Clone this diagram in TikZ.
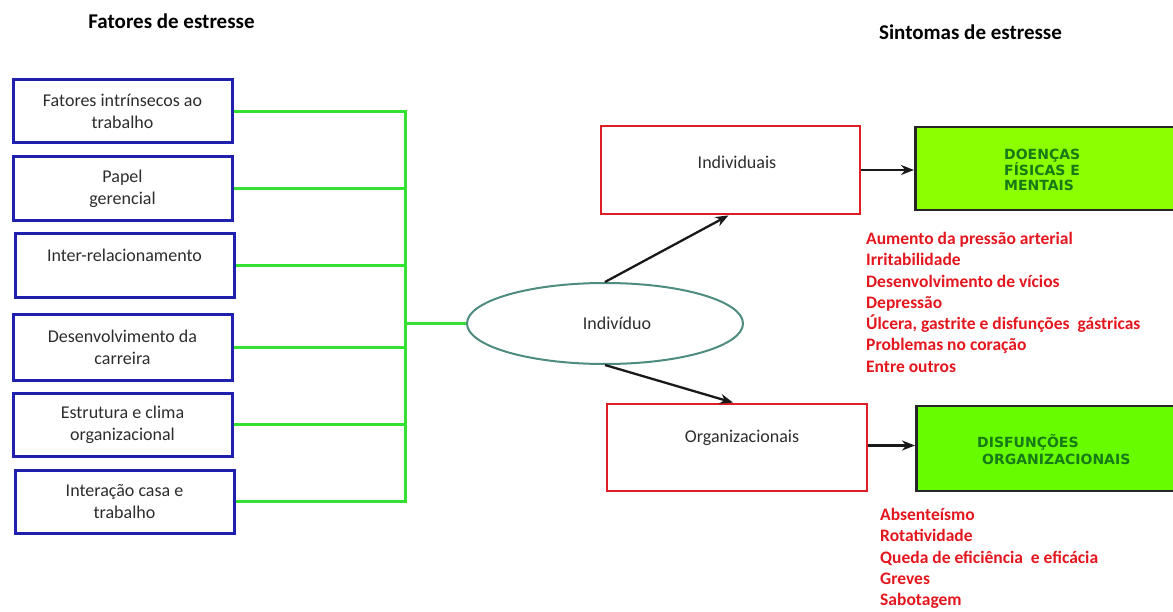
\documentclass[tikz,border=0pt]{standalone}
\usepackage{fontspec}
\setmainfont{Carlito}
\newfontfamily\verd{DejaVu Sans}
\usetikzlibrary{arrows.meta,shapes.geometric}
\definecolor{bluebd}{RGB}{32,32,175}
\definecolor{redbd}{RGB}{222,30,36}
\definecolor{redtxt}{RGB}{228,22,30}
\definecolor{glines}{RGB}{50,225,50}
\definecolor{ellbd}{RGB}{78,140,128}
\definecolor{txtgray}{RGB}{45,45,45}
\definecolor{fillA}{RGB}{140,255,0}
\definecolor{fillB}{RGB}{104,252,0}
\definecolor{gtxt}{RGB}{22,122,22}
\tikzset{
  bbox/.style={draw=bluebd,line width=3pt,minimum width=219pt,minimum height=63pt,inner sep=0pt,
    align=center,text=txtgray,font=\fontsize{18}{22}\selectfont},
  rbox/.style={draw=redbd,line width=2.8pt,minimum width=259pt,minimum height=87pt,inner sep=0pt},
  gbox/.style={draw=black!85,line width=2.8pt,minimum width=266pt,inner sep=0pt,anchor=west},
  btxt/.style={text=txtgray,font=\fontsize{18}{22}\selectfont,inner sep=0pt},
  gtext/.style={text=gtxt,font=\verd\bfseries\fontsize{14}{15}\selectfont,align=left,inner sep=0pt,anchor=west},
  rlist/.style={text=redtxt,font=\bfseries\fontsize{17.5}{21.3}\selectfont,align=left,inner sep=0pt,anchor=north west},
  ttl/.style={font=\bfseries\fontsize{21}{24}\selectfont,inner sep=0pt},
  gl/.style={draw=glines,line width=3pt},
  arr/.style={draw=black!90,line width=2.3pt,-{Stealth[length=13pt,width=10pt]}}
}
\begin{document}
\begin{tikzpicture}[x=1pt,y=-1pt]
\useasboundingbox (0,0) rectangle (1173,612);
\clip (0,0) rectangle (1173,612);
\fill[white] (0,0) rectangle (1173,612);
% titles
\node[ttl] (t1) at (171.5,21) {Fatores de estresse};
\node[ttl] (t2) at (970.5,32) {Sintomas de estresse};
% left boxes
\node[bbox] (b1) at (122.5,111.5) {Fatores intrínsecos ao\\trabalho};
\node[bbox,minimum height=64pt] (b2) at (122.5,189) {Papel\\gerencial};
\node[bbox,minimum height=64pt] (b3) at (124.5,266) {Inter-relacionamento\\\mbox{}};
\node[bbox,minimum height=65pt] (b4) at (122.5,347.5) {Desenvolvimento da\\carreira};
\node[bbox] (b5) at (122.5,424.5) {Estrutura e clima\\organizacional};
\node[bbox] (b6) at (124.5,501.5) {Interação casa e\\trabalho};
% ellipse
\node[ellipse,draw=ellbd,line width=2pt,minimum width=276pt,minimum height=81pt,inner sep=0pt,
  text=txtgray,font=\fontsize{18}{22}\selectfont] (ell) at (605,323.5) {\hspace*{24pt}Indivíduo};
% green connectors
\coordinate (bus) at (405,0);
\foreach \b in {b1,b2,b3,b4,b5,b6}{
  \draw[gl] (\b.east) -- (\b.east -| bus);
}
\draw[gl,line cap=rect] (b1.east -| bus) -- (b6.east -| bus);
\draw[gl] (ell.west -| bus) -- (ell.west);
% red boxes
\node[rbox,minimum height=88pt] (ind) at (730.5,170) {};
\node[btxt] (indt) at (737,162) {Individuais};
\node[rbox,minimum width=260pt] (org) at (737,447.5) {};
\node[btxt] (orgt) at (742,438) {Organizacionais};
% green boxes
\node[gbox,fill=fillA,minimum height=83pt] (doe) at (914,168.5) {};
\node[gtext] (doet) at (1004,170) {DOENÇAS\\FÍSICAS E\\MENTAIS};
\node[gbox,fill=fillB,minimum height=85pt] (dis) at (915,448.5) {};
\node[gtext] (dist) at (977,449.5) {DISFUNÇÕES\\[1.5pt]\hspace*{5pt}ORGANIZACIONAIS};
% arrows
\draw[arr] (ell.north) -- ([xshift=-2pt]ind.south);
\draw[arr] (ell.south) -- ([xshift=-4pt]org.north);
\draw[arr] (ind.east) -- (ind.east -| doe.west);
\draw[arr] ([yshift=2pt]org.east) -- ([yshift=2pt]org.east -| dis.west);
% red lists
\node[rlist] (l1) at (866,232) {Aumento da pressão arterial\\Irritabilidade\\Desenvolvimento de vícios\\Depressão\\Úlcera, gastrite e disfunções\ \ gástricas\\Problemas no coração\\Entre outros};
\node[rlist] (l2) at (880,508) {Absenteísmo\\Rotatividade\\Queda de eficiência\ \ e eficácia\\Greves\\Sabotagem};
\end{tikzpicture}
\end{document}
